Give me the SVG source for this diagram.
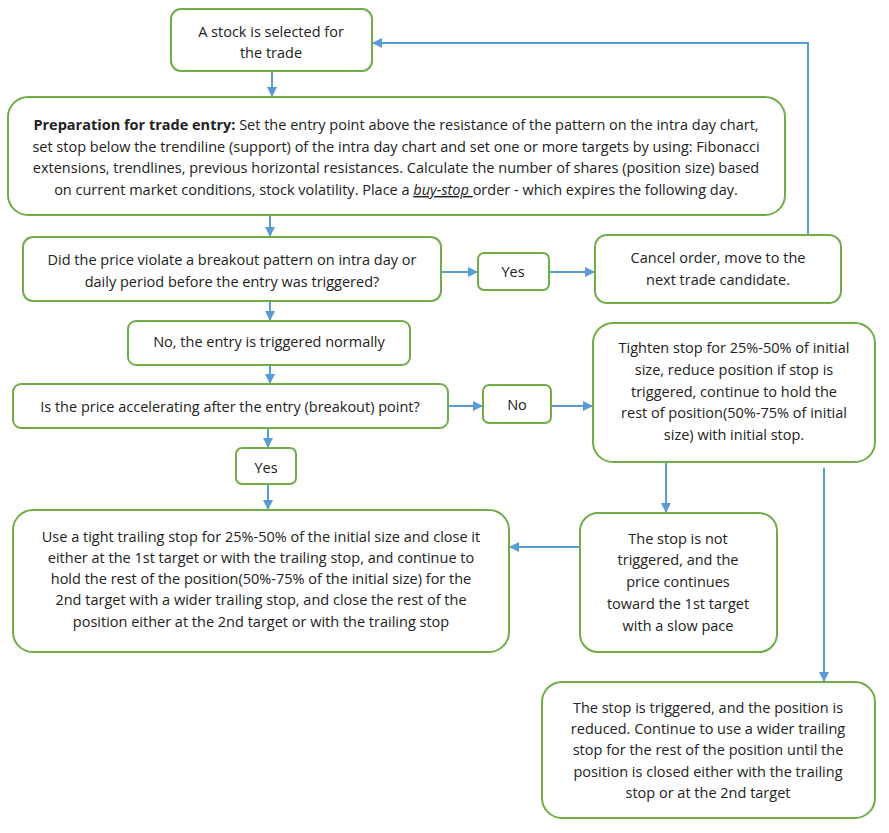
<svg xmlns="http://www.w3.org/2000/svg" width="889" height="833" viewBox="0 0 889 833">
<defs>
<style>
.box{fill:#ffffff;stroke:#70AD47;stroke-width:2}
.t{font-family:"Open Sans","Liberation Sans",Arial,sans-serif;font-size:14.5px;fill:#222222;text-anchor:middle}
.c{fill:none;stroke:#5B9BD5;stroke-width:2}
</style>
<marker id="ah" viewBox="0 0 10 10" refX="10" refY="5" markerWidth="5" markerHeight="5" orient="auto" markerUnits="strokeWidth">
<path d="M0,0 L10,5 L0,10 z" fill="#5B9BD5"/>
</marker>
</defs>
<rect width="889" height="833" fill="#ffffff"/>
<g id="connectors">
<path class="c" d="M272 71 V97" marker-end="url(#ah)"/>
<path class="c" d="M270 215 V237" marker-end="url(#ah)"/>
<path class="c" d="M441 272 H478" marker-end="url(#ah)"/>
<path class="c" d="M549 272 H595" marker-end="url(#ah)"/>
<path class="c" d="M808 235 V43 H372" marker-end="url(#ah)"/>
<path class="c" d="M270 301 V321" marker-end="url(#ah)"/>
<path class="c" d="M270 365 V384" marker-end="url(#ah)"/>
<path class="c" d="M448 406 H483" marker-end="url(#ah)"/>
<path class="c" d="M551 406 H593" marker-end="url(#ah)"/>
<path class="c" d="M268 428 V448" marker-end="url(#ah)"/>
<path class="c" d="M268 484 V510" marker-end="url(#ah)"/>
<path class="c" d="M666 462 V513" marker-end="url(#ah)"/>
<path class="c" d="M824 468 V682" marker-end="url(#ah)"/>
<path class="c" d="M580 547 H509" marker-end="url(#ah)"/>
</g>
<g id="n1">
<rect class="box" x="171" y="9" width="201" height="62" rx="10"/>
<text class="t" x="271" y="37">A stock is selected for</text>
<text class="t" x="271" y="58">the trade</text>
</g>
<g id="n2">
<rect class="box" x="8" y="97" width="777" height="118" rx="20"/>
<text class="t" x="396" y="130"><tspan font-weight="bold">Preparation for trade entry:</tspan> Set the entry point above the resistance of the pattern on the intra day chart,</text>
<text class="t" x="396" y="152">set stop below the trendiline (support) of the intra day chart and set one or more targets by using: Fibonacci</text>
<text class="t" x="396" y="173">extensions, trendlines, previous horizontal resistances. Calculate the number of shares (position size) based</text>
<text class="t" x="396" y="195">on current market conditions, stock volatility. Place a <tspan font-style="italic" text-decoration="underline">buy-stop </tspan>order - which expires the following day.</text>
</g>
<g id="n3">
<rect class="box" x="23" y="237" width="418" height="64" rx="10"/>
<text class="t" x="232" y="265">Did the price violate a breakout pattern on intra day or</text>
<text class="t" x="232" y="287">daily period before the entry was triggered?</text>
</g>
<g id="n4">
<rect class="box" x="478" y="253" width="71" height="37" rx="6"/>
<text class="t" x="513" y="277">Yes</text>
</g>
<g id="n5">
<rect class="box" x="595" y="235" width="246" height="68" rx="12"/>
<text class="t" x="718" y="263">Cancel order, move to the</text>
<text class="t" x="718" y="285">next trade candidate.</text>
</g>
<g id="n6">
<rect class="box" x="128" y="321" width="282" height="44" rx="8"/>
<text class="t" x="269" y="347">No, the entry is triggered normally</text>
</g>
<g id="n7">
<rect class="box" x="13" y="384" width="435" height="44" rx="8"/>
<text class="t" x="230" y="412">Is the price accelerating after the entry (breakout) point?</text>
</g>
<g id="n8">
<rect class="box" x="483" y="385" width="68" height="38" rx="6"/>
<text class="t" x="517" y="410">No</text>
</g>
<g id="n9">
<rect class="box" x="593" y="323" width="282" height="139" rx="20"/>
<text class="t" x="734" y="353">Tighten stop for 25%-50% of initial</text>
<text class="t" x="734" y="375">size, reduce position if stop is</text>
<text class="t" x="734" y="397">triggered, continue to hold the</text>
<text class="t" x="734" y="418">rest of position(50%-75% of initial</text>
<text class="t" x="734" y="440">size) with initial stop.</text>
</g>
<g id="n10">
<rect class="box" x="236" y="448" width="60" height="36" rx="6"/>
<text class="t" x="266" y="473">Yes</text>
</g>
<g id="n11">
<rect class="box" x="13" y="510" width="496" height="142" rx="20"/>
<text class="t" x="261" y="542">Use a tight trailing stop for 25%-50% of the initial size and close it</text>
<text class="t" x="261" y="563">either at the 1st target or with the trailing stop, and continue to</text>
<text class="t" x="261" y="584">hold the rest of the position(50%-75% of the initial size) for the</text>
<text class="t" x="261" y="605">2nd target with a wider trailing stop, and close the rest of the</text>
<text class="t" x="261" y="627">position either at the 2nd target or with the trailing stop</text>
</g>
<g id="n12">
<rect class="box" x="580" y="513" width="197" height="139" rx="18"/>
<text class="t" x="678" y="544">The stop is not</text>
<text class="t" x="678" y="565">triggered, and the</text>
<text class="t" x="678" y="587">price continues</text>
<text class="t" x="678" y="609">toward the 1st target</text>
<text class="t" x="678" y="631">with a slow pace</text>
</g>
<g id="n13">
<rect class="box" x="542" y="682" width="333" height="136" rx="20"/>
<text class="t" x="708" y="713">The stop is triggered, and the position is</text>
<text class="t" x="708" y="734">reduced. Continue to use a wider trailing</text>
<text class="t" x="708" y="755">stop for the rest of the position until the</text>
<text class="t" x="708" y="777">position is closed either with the trailing</text>
<text class="t" x="708" y="798">stop or at the 2nd target</text>
</g>
</svg>
